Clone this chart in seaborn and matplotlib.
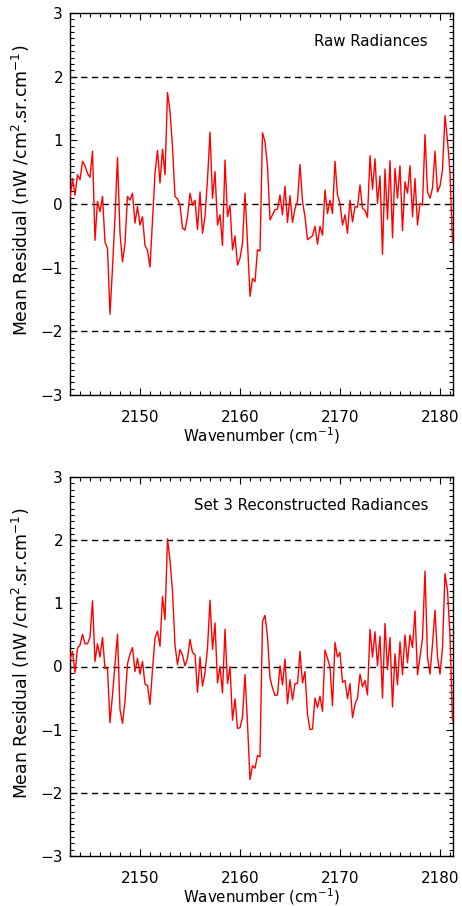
import numpy as np
import pandas as pd
import matplotlib
matplotlib.use("Agg")
import matplotlib.pyplot as plt
from matplotlib.ticker import MultipleLocator
import seaborn as sns

# Spectral grid: 0.25 cm-1 sampling starting at 2143 cm-1
wn_start = 2143.0
wn_step = 0.25

raw_residual = [
    0.09, 0.40, 0.14, 0.46, 0.38, 0.67, 0.60, 0.48, 0.42, 0.83,
    -0.57, 0.04, -0.12, 0.12, -0.60, -0.70, -1.73, -1.00, -0.20, 0.73,
    -0.46, -0.91, -0.62, 0.12, 0.06, 0.17, -0.30, -0.04, -0.33, -0.20,
    -0.65, -0.73, -0.99, -0.25, 0.48, 0.84, 0.33, 0.86, 0.46, 1.75,
    1.46, 0.90, 0.12, 0.08, -0.02, -0.38, -0.41, -0.20, 0.17, -0.02,
    0.06, -0.40, 0.19, -0.46, -0.20, 0.38, 1.13, 0.09, 0.51, -0.33,
    -0.17, -0.65, 0.69, -0.20, -0.02, -0.72, -0.50, -0.96, -0.85, -0.62,
    0.17, -0.60, -1.45, -1.17, -1.22, -0.72, -0.74, 1.12, 0.98, 0.59,
    -0.25, -0.17, -0.09, -0.08, 0.14, -0.17, 0.28, -0.29, 0.13, -0.29,
    -0.07, 0.04, 0.62, 0.04, -0.20, -0.56, -0.53, -0.50, -0.35, -0.63,
    -0.35, -0.49, 0.22, -0.15, 0.06, -0.15, 0.67, 0.14, 0.01, -0.33,
    -0.17, -0.46, 0.06, -0.28, -0.04, -0.05, 0.30, -0.07, -0.10, -0.21,
    0.76, 0.23, 0.71, 0.01, 0.44, -0.79, 0.55, -0.24, 0.68, -0.53,
    0.56, 0.09, 0.60, -0.42, 0.35, 0.17, 0.60, -0.20, 0.40, -0.33,
    0.01, -0.02, 1.09, 0.19, 0.09, 0.25, 0.83, 0.19, 0.28, 0.54,
    1.39, 1.00, 0.50, -0.60,
]

set3_residual = [
    0.12, 0.24, -0.10, 0.29, 0.34, 0.51, 0.36, 0.36, 0.46, 1.04,
    0.08, 0.36, 0.15, 0.46, -0.03, -0.03, -0.89, -0.45, 0.02, 0.51,
    -0.68, -0.90, -0.55, 0.04, 0.20, 0.30, -0.08, 0.13, -0.12, 0.08,
    -0.28, -0.30, -0.60, -0.05, 0.45, 0.56, 0.32, 1.11, 0.74, 2.02,
    1.68, 1.20, 0.34, 0.03, 0.27, 0.18, 0.01, 0.13, 0.43, 0.22,
    0.19, -0.41, 0.15, -0.31, -0.10, 0.29, 1.05, 0.27, 0.69, -0.26,
    0.00, -0.42, 0.59, -0.27, 0.00, -0.85, -0.51, -0.98, -0.97, -0.80,
    -0.13, -0.90, -1.79, -1.57, -1.61, -1.41, -1.43, 0.71, 0.81, 0.47,
    -0.18, -0.34, -0.46, -0.45, 0.01, -0.29, 0.12, -0.59, -0.21, -0.53,
    -0.27, -0.27, 0.24, -0.26, -0.08, -0.76, -1.00, -0.99, -0.50, -0.65,
    -0.47, -0.71, 0.26, 0.13, -0.01, -0.62, 0.38, 0.15, 0.22, -0.25,
    -0.22, -0.51, -0.27, -0.81, -0.60, -0.50, -0.12, -0.32, -0.22, -0.45,
    0.59, 0.15, 0.55, 0.01, 0.48, -0.50, 0.68, -0.05, 0.46, -0.64,
    0.20, -0.29, 0.39, -0.13, 0.50, 0.06, 0.50, 0.30, 0.88, -0.13,
    0.15, 0.45, 1.51, 0.15, -0.12, 0.35, 0.89, 0.15, -0.12, 0.29,
    1.47, 1.20, 0.50, -0.86,
]

panel_titles = ["Raw Radiances", "Set 3 Reconstructed Radiances"]
reference_levels = [-2, 0, 2]
x_ticks = [2150, 2160, 2170, 2180]
y_ticks = [-3, -2, -1, 0, 1, 2, 3]

wavenumber = wn_start + wn_step * np.arange(len(raw_residual))
frames = [
    pd.DataFrame({"wavenumber": wavenumber, "residual": raw_residual}),
    pd.DataFrame({"wavenumber": wavenumber, "residual": set3_residual}),
]

sns.set_style("ticks")
plt.rcParams["font.family"] = ["DejaVu Sans"]
plt.rcParams["text.color"] = "black"
plt.rcParams["axes.labelcolor"] = "black"
plt.rcParams["xtick.color"] = "black"
plt.rcParams["ytick.color"] = "black"

fig = plt.figure(figsize=(4.62, 9.06), dpi=100)
ax_top = fig.add_axes([70 / 462, 1 - 395 / 906, 383 / 462, 382 / 906])
ax_bot = fig.add_axes([70 / 462, 1 - 856 / 906, 383 / 462, 379 / 906])

for ax, df, title in zip([ax_top, ax_bot], frames, panel_titles):
    for lvl in reference_levels:
        ax.axhline(lvl, color="black", lw=1.0, dashes=(4.5, 3.2), zorder=1)
    sns.lineplot(data=df, x="wavenumber", y="residual", ax=ax,
                 color="#ff0000", lw=1.0, zorder=3, estimator=None)
    ax.set_xlim(2143.0, 2181.3)
    ax.set_ylim(-3, 3)
    ax.set_xticks(x_ticks)
    ax.set_yticks(y_ticks)
    ax.xaxis.set_minor_locator(MultipleLocator(1))
    ax.yaxis.set_minor_locator(MultipleLocator(0.1))
    ax.tick_params(which="both", direction="in", top=True, right=True,
                   color="black", width=0.8)
    ax.tick_params(which="major", length=5, labelsize=11)
    ax.tick_params(which="minor", length=2.6)
    ax.tick_params(axis="x", which="major", pad=11)
    ax.tick_params(axis="y", which="major", pad=5)
    for sp in ax.spines.values():
        sp.set_color("black")
        sp.set_linewidth(1.0)
    ax.set_xlabel("Wavenumber (cm$^{-1}$)", fontsize=10.8, labelpad=0)
    ax.set_ylabel("Mean Residual (nW /cm$^{2}$.sr.cm$^{-1}$)", fontsize=12.4)
    ax.yaxis.set_label_coords(-0.1, 0.535)
    ax.text(0.935, 0.925, title, transform=ax.transAxes, ha="right",
            va="center", fontsize=10.8)

fig.savefig("out.png", dpi=100, facecolor="white")
